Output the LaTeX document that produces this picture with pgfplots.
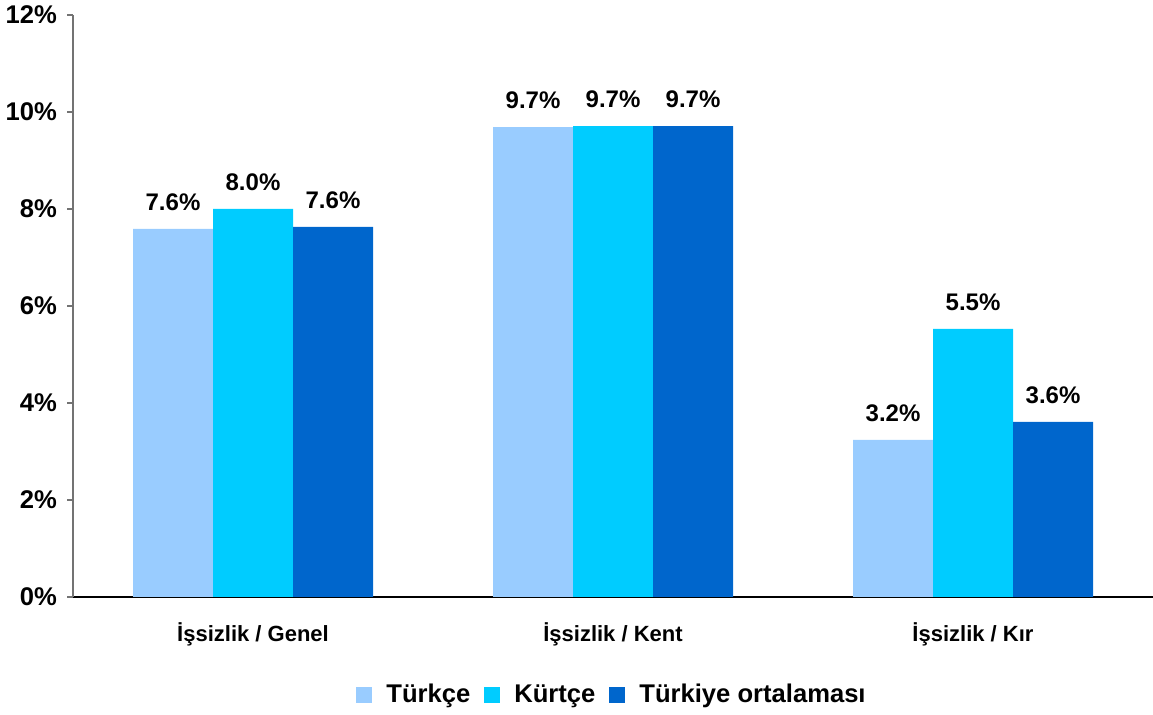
\documentclass[border=0pt]{standalone}
\usepackage{pgfplots}
\pgfplotsset{compat=1.18}
\usepackage{fontspec}
\setmainfont{Liberation Sans}
\usetikzlibrary{calc}

\definecolor{cTurk}{HTML}{99CCFF}
\definecolor{cKurt}{HTML}{00CCFF}
\definecolor{cOrt}{HTML}{0066CC}

\begin{document}
\begin{tikzpicture}
\begin{axis}[
    name=ax,
    scale only axis,
    width=540pt, height=291pt,
    ybar=0pt, bar width=40pt,
    xmin=-0.5, xmax=2.5,
    ymin=0, ymax=12,
    /pgf/number format/assume math mode=true,
    xtick={0,1,2},
    xticklabels={İşsizlik / Genel, İşsizlik / Kent, İşsizlik / Kır},
    xticklabel style={font=\bfseries\fontsize{11}{13}\selectfont, yshift=-6.5pt},
    ytick={0,2,4,6,8,10,12},
    yticklabels={0\%,2\%,4\%,6\%,8\%,10\%,12\%},
    yticklabel style={font=\bfseries\fontsize{12.8}{15}\selectfont, xshift=-1.5pt},
    axis x line*=bottom,
    axis y line*=left,
    x axis line style={black, line width=0.6pt, -},
    y axis line style={gray!90!black, line width=0.6pt, -},
    major x tick style={draw=none},
    major y tick style={gray!90!black, line width=0.6pt},
    tick align=outside,
    major tick length=3pt,
    nodes near coords={\pgfmathprintnumber[fixed,fixed zerofill,precision=1]{\pgfplotspointmeta}\%},
    every node near coord/.append style={font=\bfseries\fontsize{12}{14}\selectfont, yshift=5.5pt, black},
    legend style={at={(0.5,0)}, anchor=center, yshift=-49pt, draw=none,
        font=\bfseries\fontsize{12.8}{15}\selectfont, column sep=5pt},
    legend columns=-1,
    legend image code/.code={\fill[#1] (0pt,-4pt) rectangle (8pt,4pt);},
]
\addplot[fill=cTurk, draw=none] coordinates {(0,7.59) (1,9.69) (2,3.24)};
\addplot[fill=cKurt, draw=none] coordinates {(0,8.00) (1,9.71) (2,5.53)};
\addplot[fill=cOrt, draw=none] coordinates {(0,7.63) (1,9.71) (2,3.61)};
\legend{Türkçe, Kürtçe, Türkiye ortalaması}
\end{axis}
\pgfresetboundingbox
\path ($(ax.south west)+(-36.5pt,-59pt)$) rectangle ($(ax.north east)+(0,7.5pt)$);
\end{tikzpicture}
\end{document}
